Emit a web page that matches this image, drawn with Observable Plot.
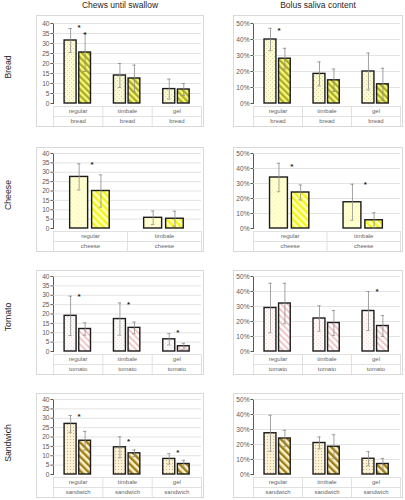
<!DOCTYPE html>
<html><head><meta charset="utf-8">
<script src="https://cdn.jsdelivr.net/npm/d3@7"></script>
<script src="https://cdn.jsdelivr.net/npm/@observablehq/plot@0.6"></script>
<style>
html,body{margin:0;padding:0;background:#fff;}
#root{position:relative;width:405px;height:500px;overflow:hidden;font-family:"Liberation Sans",Arial,sans-serif;background:#fff;}
.panel{position:absolute;border:1px solid #d9d9d9;background:#fff;}
.panel svg{display:block;overflow:visible;}
.ctitle{position:absolute;top:0;text-align:center;font-size:8.5px;line-height:11px;color:#262626;}
.rlabel{position:absolute;width:80px;height:12px;line-height:12px;text-align:center;font-size:8.7px;color:#262626;transform:rotate(-90deg);}
</style></head><body>
<svg width="0" height="0" style="position:absolute">
<defs>
<pattern id="dotY" width="4" height="4" patternUnits="userSpaceOnUse">
<rect width="4" height="4" fill="#fcfbd6"/><rect x="0" y="0" width="0.9" height="0.9" fill="#cfcf90"/><rect x="2" y="2" width="0.9" height="0.9" fill="#cfcf90"/>
</pattern>
<pattern id="strY" width="4.5" height="4.5" patternUnits="userSpaceOnUse" patternTransform="rotate(-45)">
<rect width="4.5" height="4.5" fill="#f6f67a"/><rect width="2.2" height="4.5" fill="#a9ab24"/>
</pattern>
<pattern id="dotC" width="4" height="4" patternUnits="userSpaceOnUse">
<rect width="4" height="4" fill="#ffffcf"/><rect x="0" y="0" width="0.9" height="0.9" fill="#f1f1b4"/><rect x="2" y="2" width="0.9" height="0.9" fill="#f1f1b4"/>
</pattern>
<pattern id="strC" width="5" height="5" patternUnits="userSpaceOnUse" patternTransform="rotate(-45)">
<rect width="5" height="5" fill="#ffffb8"/><rect width="2.4" height="5" fill="#f4f41c"/>
</pattern>
<pattern id="dotT" width="4" height="4" patternUnits="userSpaceOnUse">
<rect width="4" height="4" fill="#fffafa"/><rect x="0" y="0" width="0.9" height="0.9" fill="#f2d2d2"/><rect x="2" y="2" width="0.9" height="0.9" fill="#f2d2d2"/>
</pattern>
<pattern id="strT" width="4.5" height="4.5" patternUnits="userSpaceOnUse" patternTransform="rotate(-45)">
<rect width="4.5" height="4.5" fill="#ffffff"/><rect width="1.9" height="4.5" fill="#f2c4c6"/>
</pattern>
<pattern id="dotS" width="3" height="3" patternUnits="userSpaceOnUse">
<rect width="3" height="3" fill="#fbf2d8"/><rect x="0" y="0" width="0.9" height="0.9" fill="#c9a767"/>
</pattern>
<pattern id="strS" width="5" height="5" patternUnits="userSpaceOnUse" patternTransform="rotate(-45)">
<rect width="5" height="5" fill="#fdf3c8"/><rect width="2.4" height="5" fill="#a07c18"/>
</pattern>
</defs></svg>
<div id="root"></div>
<script>
// ---------- data ----------
const columnTitles = ["Chews until swallow", "Bolus saliva content"];
const rowTitles = ["Bread", "Cheese", "Tomato", "Sandwich"];
const foodNames = ["bread", "cheese", "tomato", "sandwich"];

const breadTextures = ["regular", "timbale", "gel"];
const cheeseTextures = ["regular", "timbale"];
const tomatoTextures = ["regular", "timbale", "gel"];
const sandwichTextures = ["regular", "timbale", "gel"];

const chewTicks = [0, 5, 10, 15, 20, 25, 30, 35, 40];
const salivaTicks = [0, 10, 20, 30, 40, 50];

// first bar (dotted) and second bar (striped): mean and SD
const breadChewsA = [31.5, 14.0, 7.2];   const breadChewsAsd = [6.0, 6.0, 5.0];
const breadChewsB = [25.5, 12.5, 7.0];   const breadChewsBsd = [9.5, 6.7, 3.0];
const breadSalivaA = [40.0, 18.5, 20.0]; const breadSalivaAsd = [7.0, 7.5, 11.5];
const breadSalivaB = [28.0, 14.5, 12.0]; const breadSalivaBsd = [6.5, 7.0, 10.0];

const cheeseChewsA = [27.5, 5.7];        const cheeseChewsAsd = [7.0, 3.6];
const cheeseChewsB = [20.0, 5.2];        const cheeseChewsBsd = [8.6, 4.0];
const cheeseSalivaA = [34.0, 17.5];      const cheeseSalivaAsd = [9.5, 12.0];
const cheeseSalivaB = [24.0, 5.5];       const cheeseSalivaBsd = [5.0, 5.0];

const tomatoChewsA = [19.0, 17.3, 6.5];  const tomatoChewsAsd = [10.5, 8.6, 3.0];
const tomatoChewsB = [12.0, 12.6, 2.8];  const tomatoChewsBsd = [3.3, 3.1, 1.6];
const tomatoSalivaA = [29.0, 22.0, 27.0]; const tomatoSalivaAsd = [16.5, 8.5, 13.0];
const tomatoSalivaB = [32.0, 19.0, 17.0]; const tomatoSalivaBsd = [13.5, 8.3, 7.0];

const sandwichChewsA = [27.0, 14.5, 8.3]; const sandwichChewsAsd = [4.5, 5.6, 2.8];
const sandwichChewsB = [18.0, 11.3, 5.6]; const sandwichChewsBsd = [5.0, 1.8, 2.0];
const sandwichSalivaA = [27.5, 21.0, 10.5]; const sandwichSalivaAsd = [12.0, 4.0, 4.7];
const sandwichSalivaB = [24.0, 18.5, 7.0];  const sandwichSalivaBsd = [5.5, 8.0, 3.7];

// significance marks: [texture, height, slot]
const breadChewsStars = [["regular", 39, "gap"], ["regular", 35.3, "B"]];
const breadSalivaStars = [["regular", 47, "gap"]];
const cheeseChewsStars = [["regular", 35, "gap"]];
const cheeseSalivaStars = [["regular", 43, "gap"], ["timbale", 31, "gap"]];
const tomatoChewsStars = [["regular", 30.2, "gap"], ["timbale", 26.4, "gap"], ["gel", 11.4, "gap"]];
const tomatoSalivaStars = [["gel", 41.3, "gap"]];
const sandwichChewsStars = [["regular", 31.9, "gap"], ["timbale", 18.6, "gap"], ["gel", 13.1, "gap"]];
const sandwichSalivaStars = [];

// ---------- layout ----------
const cols = [{left: 36, width: 168, marginLeft: 16}, {left: 233, width: 170, marginLeft: 19}];
const rowsL = [{top: 15, marginTop: 7, plotH: 80}, {top: 147, marginTop: 5, plotH: 75},
               {top: 270, marginTop: 5, plotH: 75}, {top: 393, marginTop: 5, plotH: 75}];
const rowLabelY = [67, 195, 317, 443];
const BAR_A = [0.225, 0.468], BAR_B = [0.522, 0.76];
const SLOT = {gap: 0.52, B: (BAR_B[0] + BAR_B[1]) / 2};
const FONT = "'Liberation Sans', Arial, sans-serif";

const panels = [
  [breadTextures, 0, [breadChewsA, breadChewsAsd, breadChewsB, breadChewsBsd, breadChewsStars],
                     [breadSalivaA, breadSalivaAsd, breadSalivaB, breadSalivaBsd, breadSalivaStars], "url(#dotY)", "url(#strY)"],
  [cheeseTextures, 1, [cheeseChewsA, cheeseChewsAsd, cheeseChewsB, cheeseChewsBsd, cheeseChewsStars],
                      [cheeseSalivaA, cheeseSalivaAsd, cheeseSalivaB, cheeseSalivaBsd, cheeseSalivaStars], "url(#dotC)", "url(#strC)"],
  [tomatoTextures, 2, [tomatoChewsA, tomatoChewsAsd, tomatoChewsB, tomatoChewsBsd, tomatoChewsStars],
                      [tomatoSalivaA, tomatoSalivaAsd, tomatoSalivaB, tomatoSalivaBsd, tomatoSalivaStars], "url(#dotT)", "url(#strT)"],
  [sandwichTextures, 3, [sandwichChewsA, sandwichChewsAsd, sandwichChewsB, sandwichChewsBsd, sandwichChewsStars],
                        [sandwichSalivaA, sandwichSalivaAsd, sandwichSalivaB, sandwichSalivaBsd, sandwichSalivaStars], "url(#dotS)", "url(#strS)"]
];

const root = document.getElementById("root");

columnTitles.forEach((t, c) => {
  const d = document.createElement("div");
  d.className = "ctitle";
  d.style.left = cols[c].left + "px";
  d.style.width = cols[c].width + "px";
  d.textContent = t;
  root.appendChild(d);
});
rowTitles.forEach((t, r) => {
  const d = document.createElement("div");
  d.className = "rlabel";
  d.style.left = (8 - 40) + "px";
  d.style.top = (rowLabelY[r] - 6) + "px";
  d.textContent = t;
  root.appendChild(d);
});

function drawPanel(cats, food, series, ticks, pct, fillA, fillB, col, row) {
  const [A, Asd, B, Bsd, stars] = series;
  const n = cats.length;
  const yMax = ticks[ticks.length - 1];
  const innerW = col.width - 2;
  const pxPerUnit = (innerW - col.marginLeft - 2) / n;
  const cap = 1.7 / pxPerUnit;
  const rows = cats.map((c, i) => ({i, c, a: A[i], asd: Asd[i], b: B[i], bsd: Bsd[i]}));
  const err = rows.flatMap(d => [
    {x: d.i + (BAR_A[0] + BAR_A[1]) / 2, lo: d.a - d.asd, hi: d.a + d.asd},
    {x: d.i + (BAR_B[0] + BAR_B[1]) / 2, lo: d.b - d.bsd, hi: d.b + d.bsd}
  ]);
  const caps = err.flatMap(e => [{x: e.x, y: e.hi}, {x: e.x, y: Math.max(0, e.lo)}]);
  const starRows = stars.map(([c, y, slot]) => ({x: cats.indexOf(c) + SLOT[slot], y}));

  const main = Plot.plot({
    width: innerW,
    height: row.marginTop + row.plotH + 3,
    marginTop: row.marginTop, marginBottom: 3, marginLeft: col.marginLeft, marginRight: 2,
    style: {fontFamily: FONT, fontSize: "6.6px", color: "#595959", background: "transparent", overflow: "visible"},
    x: {domain: [0, n], axis: null},
    y: {domain: [0, yMax], ticks: ticks, tickSize: 2.5, tickPadding: 1.5, line: true, label: null,
        tickFormat: pct ? (d => d + "%") : (d => String(d))},
    marks: [
      Plot.ruleY(ticks.slice(1), {x1: 0, x2: n, stroke: "#dcdcdc", strokeWidth: 0.8}),
      Plot.rect(rows, {x1: d => d.i + BAR_A[0], x2: d => d.i + BAR_A[1], y1: 0, y2: "a",
                       fill: fillA, stroke: "#1c1c1c", strokeWidth: 1.4}),
      Plot.rect(rows, {x1: d => d.i + BAR_B[0], x2: d => d.i + BAR_B[1], y1: 0, y2: "b",
                       fill: fillB, stroke: "#1c1c1c", strokeWidth: 1.4}),
      Plot.ruleX(err, {x: "x", y1: d => Math.max(0, d.lo), y2: "hi", stroke: "#8c8c8c", strokeWidth: 0.8}),
      Plot.ruleY(caps, {y: "y", x1: d => d.x - cap, x2: d => d.x + cap, stroke: "#8c8c8c", strokeWidth: 0.8}),
      Plot.text(starRows, {x: "x", y: "y", text: () => "*", fontSize: 8, fontWeight: "bold", fill: "#222", dy: 2})
    ]
  });

  const table = Plot.plot({
    width: innerW, height: 20,
    marginTop: 0, marginBottom: 0, marginLeft: col.marginLeft, marginRight: 2,
    style: {fontFamily: FONT, fontSize: "6px", color: "#666", background: "transparent", overflow: "visible"},
    x: {domain: [0, n], axis: null},
    y: {domain: [0, 2], range: [0, 20], axis: null},
    marks: [
      Plot.ruleY([0, 1], {x1: 0, x2: n, stroke: "#d9d9d9", strokeWidth: 0.8}),
      Plot.ruleX(d3.range(n + 1), {x: d => d, y1: 0, y2: 2, stroke: "#d9d9d9", strokeWidth: 0.8}),
      Plot.text(cats, {x: (d, i) => i + 0.5, y: 0.5, text: d => d, fill: "#666"}),
      Plot.text(cats, {x: (d, i) => i + 0.5, y: 1.5, text: () => food, fill: "#666"})
    ]
  });

  const div = document.createElement("div");
  div.className = "panel";
  div.style.left = col.left + "px";
  div.style.top = row.top + "px";
  div.style.width = innerW + "px";
  div.appendChild(main);
  div.appendChild(table);
  root.appendChild(div);
}

panels.forEach(([cats, r, chews, saliva, fA, fB]) => {
  drawPanel(cats, foodNames[r], chews, chewTicks, false, fA, fB, cols[0], rowsL[r]);
  drawPanel(cats, foodNames[r], saliva, salivaTicks, true, fA, fB, cols[1], rowsL[r]);
});
</script>
</body></html>
